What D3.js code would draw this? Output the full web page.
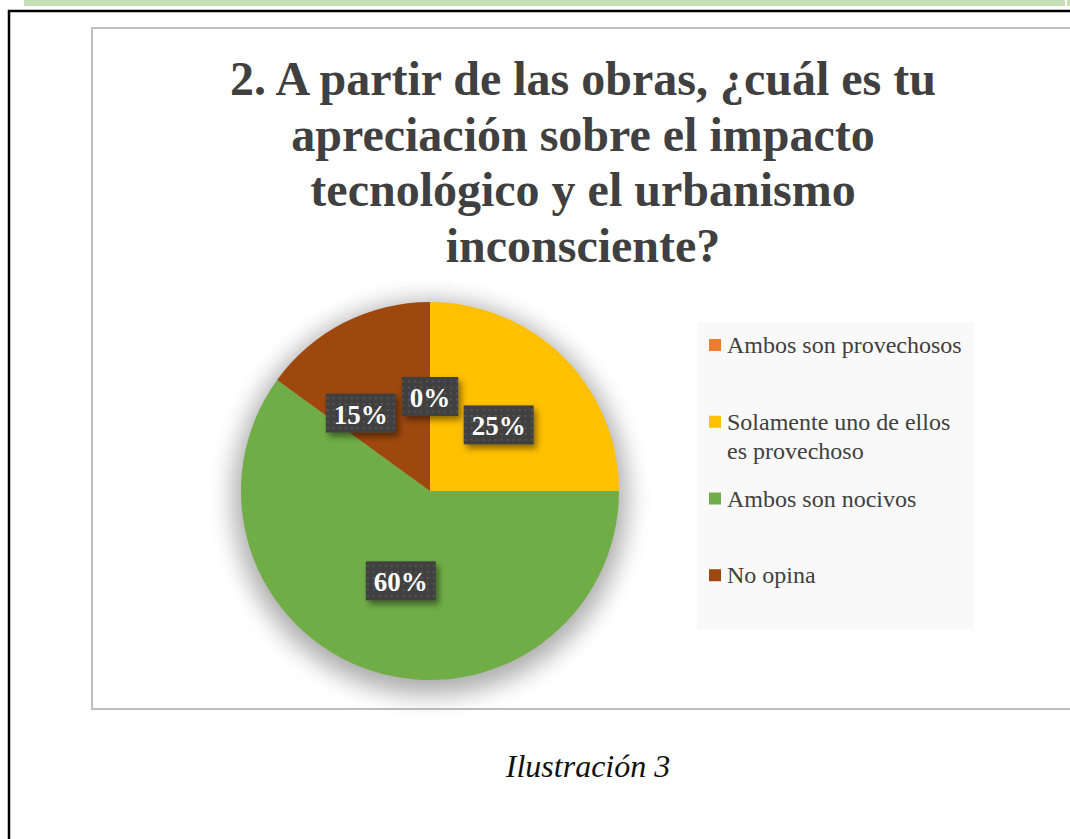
<!DOCTYPE html>
<html>
<head>
<meta charset="utf-8">
<script src="https://cdn.jsdelivr.net/npm/d3@7"></script>
<style>
  body { margin: 0; background: #fff; }
  svg { display: block; }
</style>
</head>
<body>
<div id="chart"></div>
<script>
// chart data
const categories = ["Ambos son provechosos", "Solamente uno de ellos es provechoso", "Ambos son nocivos", "No opina"];
const percents = [0, 25, 60, 15];
const colors = ["#ed7d31", "#ffc000", "#70ad47", "#9e480e"];
const titleLines = ["2. A partir de las obras, ¿cuál es tu", "apreciación sobre el impacto", "tecnológico y el urbanismo", "inconsciente?"];
const caption = "Ilustración 3";

const W = 1070, H = 839;
const svg = d3.select("#chart").append("svg")
  .attr("width", W)
  .attr("height", H);

const defs = svg.append("defs");

// dotted fill for the data labels
const pat = defs.append("pattern")
  .attr("id", "dots")
  .attr("width", 6).attr("height", 6)
  .attr("patternUnits", "userSpaceOnUse");
pat.append("rect").attr("width", 6).attr("height", 6).attr("fill", "#404040");
pat.append("rect").attr("x", 2).attr("y", 2).attr("width", 2).attr("height", 2).attr("fill", "#545454");

const lblShadow = defs.append("filter").attr("id", "lblShadow")
  .attr("x", "-30%").attr("y", "-30%").attr("width", "160%").attr("height", "180%");
lblShadow.append("feDropShadow")
  .attr("dx", 3).attr("dy", 4).attr("stdDeviation", 3)
  .attr("flood-color", "#000").attr("flood-opacity", 0.45);

const pieShadow = defs.append("filter").attr("id", "pieShadow")
  .attr("x", "-30%").attr("y", "-30%").attr("width", "160%").attr("height", "160%");
pieShadow.append("feGaussianBlur").attr("stdDeviation", 12);

// page decoration
svg.append("rect").attr("x", 24).attr("y", 0).attr("width", 1041).attr("height", 6).attr("fill", "#c5e0b4");
svg.append("rect").attr("x", 1067).attr("y", 0).attr("width", 3).attr("height", 6).attr("fill", "#c5e0b4");
svg.append("path")
  .attr("d", `M9,${H} V11 H${W}`)
  .attr("fill", "none").attr("stroke", "#000").attr("stroke-width", 2.5);

// chart area
svg.append("rect")
  .attr("x", 92).attr("y", 28).attr("width", 990).attr("height", 681)
  .attr("fill", "#fff").attr("stroke", "#bfbfbf").attr("stroke-width", 2);

// title
const titleG = svg.append("text")
  .attr("text-anchor", "middle")
  .attr("font-family", "'Liberation Serif', 'Times New Roman', serif")
  .attr("font-weight", "bold")
  .attr("font-size", 48)
  .attr("fill", "#404040");
titleG.selectAll("tspan")
  .data(titleLines)
  .enter().append("tspan")
  .attr("x", 583)
  .attr("y", (d, i) => 95 + i * 55.5)
  .text(d => d);

// pie
const cx = 430, cy = 491, R = 189;
const color = d3.scaleOrdinal().domain(categories).range(colors);
const pie = d3.pie().sort(null).value(d => d.value);
const arcs = pie(categories.map((c, i) => ({ name: c, value: percents[i] })));
const arc = d3.arc().innerRadius(0).outerRadius(R);
const labelArc = d3.arc().innerRadius(R * 0.5).outerRadius(R * 0.5);

const pieG = svg.append("g").attr("transform", `translate(${cx},${cy})`);
pieG.append("circle")
  .attr("cy", 7).attr("r", R + 8)
  .attr("fill", "#000").attr("opacity", 0.32)
  .attr("filter", "url(#pieShadow)");
pieG.selectAll("path.slice")
  .data(arcs)
  .enter().append("path")
  .attr("class", "slice")
  .attr("d", arc)
  .attr("fill", d => color(d.data.name));

// data labels
const labels = pieG.selectAll("g.lbl")
  .data(arcs)
  .enter().append("g")
  .attr("class", "lbl");
const lblText = labels.append("text")
  .attr("text-anchor", "middle")
  .attr("dy", "0.35em")
  .attr("font-family", "'Liberation Serif', 'Times New Roman', serif")
  .attr("font-weight", "bold")
  .attr("font-size", 27)
  .attr("fill", "#fff")
  .text(d => d.data.value + "%");

const boxes = [];
lblText.each(function(d) {
  const w = this.getComputedTextLength() + 16;
  const h = 39;
  const [x, y] = labelArc.centroid(d);
  boxes.push({ x, y, w, h });
});
// push overlapping labels away from the ones already placed
for (let i = 1; i < boxes.length; i++) {
  for (let j = 0; j < i; j++) {
    const a = boxes[i], b = boxes[j];
    let dx = a.x - b.x, dy = a.y - b.y;
    const len = Math.hypot(dx, dy) || 1;
    dx /= len; dy /= len;
    let guard = 0;
    while (Math.abs(a.x - b.x) < (a.w + b.w) / 2 + 5 && Math.abs(a.y - b.y) < (a.h + b.h) / 2 && guard < 200) {
      a.x += dx; a.y += dy; guard++;
    }
  }
}
labels.attr("transform", (d, i) => `translate(${boxes[i].x},${boxes[i].y})`);
labels.insert("rect", "text")
  .attr("x", (d, i) => -boxes[i].w / 2)
  .attr("y", (d, i) => -boxes[i].h / 2)
  .attr("width", (d, i) => boxes[i].w)
  .attr("height", (d, i) => boxes[i].h)
  .attr("fill", "url(#dots)")
  .attr("filter", "url(#lblShadow)");
lblText.attr("y", 1);

// legend
const legX = 697, legTop = 322, legBottom = 629;
svg.append("rect")
  .attr("x", legX).attr("y", legTop)
  .attr("width", 277).attr("height", legBottom - legTop)
  .attr("fill", "#f9f9f9");

const band = d3.scaleBand().domain(categories).range([legTop, legBottom]);
const legFont = 24;
const legItems = svg.selectAll("g.leg")
  .data(categories)
  .enter().append("g")
  .attr("class", "leg")
  .attr("transform", d => `translate(${legX + 12},${band(d) + 23})`);
legItems.append("rect")
  .attr("x", 0).attr("y", -6)
  .attr("width", 12).attr("height", 12)
  .attr("fill", d => color(d));
legItems.append("text")
  .attr("x", 18)
  .attr("font-family", "'Liberation Serif', 'Times New Roman', serif")
  .attr("font-size", legFont)
  .attr("fill", "#404040")
  .each(function(d) {
    const t = d3.select(this);
    const words = d.split(" ");
    let line = [];
    let lineNo = 0;
    let ts = t.append("tspan").attr("x", 18).attr("y", 8);
    words.forEach(w => {
      line.push(w);
      ts.text(line.join(" "));
      if (ts.node().getComputedTextLength() > 240 && line.length > 1) {
        line.pop();
        ts.text(line.join(" "));
        line = [w];
        lineNo++;
        ts = t.append("tspan").attr("x", 18).attr("y", 8 + lineNo * 29).text(w);
      }
    });
  });

// caption
svg.append("text")
  .attr("x", 588)
  .attr("y", 777)
  .attr("text-anchor", "middle")
  .attr("font-family", "'Liberation Serif', 'Times New Roman', serif")
  .attr("font-style", "italic")
  .attr("font-size", 32)
  .attr("fill", "#111")
  .text(caption);
</script>
</body>
</html>
